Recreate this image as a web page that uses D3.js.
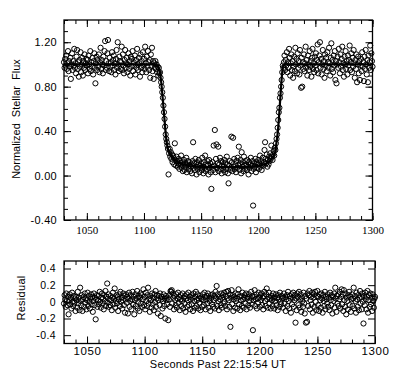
<!DOCTYPE html>
<html>
<head>
<meta charset="utf-8">
<script src="https://cdn.jsdelivr.net/npm/d3@7"></script>
<style>
  body { margin: 0; background: #fff; }
  svg { display: block; }
  .axis path { display: none; }
  .axis line { stroke: #000; stroke-width: 1; }
  .axis text { fill: #000; }
</style>
</head>
<body>
<svg width="396" height="372"></svg>
<script>
// Light curve sampled every half second from 1030 s to 1300 s.
const tStart = 1030;
const tStep = 0.5;

// Normalized stellar flux, one row = 10 s.
const flux = [
  1.02,0.97,1.05,0.99,1.08,0.96,1.01,1.12,0.94,1.03,0.98,1.06,0.87,1.00,1.10,0.95,1.03,0.99,1.14,0.97,
  1.01,0.92,1.07,1.13,0.96,1.02,0.89,1.04,0.98,1.11,0.93,1.00,1.06,0.90,1.03,0.97,1.09,0.95,1.01,1.05,
  0.99,1.04,0.92,1.08,1.00,0.96,1.12,0.94,1.02,0.98,1.06,0.91,1.03,1.10,0.97,0.83,1.01,1.07,0.95,1.04,
  0.98,1.09,0.93,1.02,1.15,0.96,1.04,1.00,0.92,1.07,0.99,1.12,1.21,0.95,1.03,0.97,1.10,1.22,1.01,0.94,
  1.06,0.98,1.02,0.93,1.11,0.99,1.04,1.08,0.95,1.01,0.91,1.05,1.13,0.97,1.20,1.00,0.94,1.07,1.03,0.96,
  1.02,1.16,0.95,1.09,0.99,0.92,1.04,1.13,0.97,1.01,1.06,0.93,1.00,1.10,0.96,1.03,0.90,1.07,0.98,1.05,
  1.12,0.94,1.02,0.99,1.08,0.91,1.04,0.97,1.14,1.00,0.95,1.06,1.01,0.89,1.09,0.97,1.03,0.93,1.11,0.99,
  1.05,0.96,1.16,1.01,0.93,1.07,0.98,1.12,1.02,0.95,1.04,0.88,1.09,0.99,1.15,0.94,1.03,0.87,1.01,0.97,
  1.03,0.96,1.00,0.93,0.98,0.90,0.97,0.92,0.93,0.88,0.84,0.80,0.75,0.70,0.63,0.57,0.51,0.44,0.37,0.33,
  0.30,0.27,0.24,0.01,0.20,0.24,0.17,0.21,0.15,0.19,0.12,0.18,0.16,0.10,0.29,0.14,0.09,0.17,0.13,0.08,
  0.11,0.15,0.06,0.13,0.09,0.18,0.07,0.12,0.04,0.10,0.14,0.05,0.11,0.08,0.16,0.03,0.10,0.13,0.06,0.09,
  0.12,0.04,0.08,0.10,0.02,0.13,0.30,0.07,0.11,0.05,0.15,0.08,0.01,0.12,0.06,0.10,0.14,0.03,0.09,0.07,
  0.11,0.05,0.16,0.08,0.02,0.12,0.07,0.18,0.04,0.10,0.06,0.13,0.09,0.01,0.14,0.07,0.11,0.03,-0.12,0.08,
  0.12,0.05,0.27,0.09,0.41,0.03,0.15,0.28,0.07,0.11,0.26,0.04,0.10,0.16,0.06,0.13,0.02,0.09,0.12,0.05,
  0.08,0.14,0.03,0.11,0.06,0.17,0.10,0.02,-0.07,0.09,0.13,0.05,0.07,0.35,0.12,0.04,0.34,0.08,0.15,0.06,
  0.10,0.03,0.13,0.07,0.16,0.09,0.26,0.05,0.11,0.14,0.02,0.21,0.08,0.12,0.04,0.17,0.09,0.06,0.13,0.10,
  0.05,0.14,0.08,0.01,0.12,0.07,0.10,0.16,0.04,0.09,0.13,-0.27,0.06,0.11,0.08,0.15,0.03,0.12,0.07,0.10,
  0.14,0.06,0.11,0.18,0.08,0.13,0.05,0.10,0.16,0.09,0.12,0.23,0.30,0.15,0.11,0.19,0.08,0.14,0.10,0.17,
  0.13,0.20,0.15,0.27,0.17,0.14,0.19,0.22,0.18,0.25,0.23,0.29,0.33,0.37,0.43,0.50,0.57,0.61,0.70,0.74,
  0.80,0.86,0.93,0.99,0.97,1.02,1.08,0.95,1.04,0.99,1.11,0.93,1.02,0.97,1.14,1.06,0.90,1.01,1.09,0.95,
  1.03,0.88,0.98,1.07,0.94,1.15,1.00,1.05,0.92,1.10,0.97,1.03,0.91,1.13,0.99,0.79,1.06,0.80,1.02,0.96,
  1.09,0.94,1.01,1.16,0.97,1.04,0.90,1.08,1.00,0.95,1.12,0.98,1.03,0.89,1.06,1.14,0.96,1.01,0.93,1.07,
  0.99,1.10,0.95,1.04,1.18,0.92,1.02,1.08,1.20,0.97,1.05,0.91,1.00,1.13,0.96,1.03,0.88,1.09,0.99,1.06,
  0.94,1.11,1.02,0.97,1.15,1.01,0.90,1.06,1.19,0.96,1.04,0.93,1.08,0.99,1.12,0.86,1.03,0.83,1.00,1.07,
  0.97,1.14,1.02,0.92,1.09,0.98,1.05,1.16,0.95,1.01,0.89,1.07,1.00,1.12,0.96,1.03,0.91,1.08,0.99,1.04,
  1.17,0.95,1.02,1.10,0.93,1.06,0.98,1.13,1.01,0.88,1.04,0.96,1.09,0.84,1.00,1.07,0.92,1.03,0.86,0.99,
  1.05,0.94,1.11,0.98,1.02,0.85,1.07,0.96,1.13,1.00,0.91,1.04,0.84,1.08,0.97,1.02,1.17,0.95,1.10,1.03,
  0.98
];

// Residuals (data minus model), same sampling.
const residual = [
  -0.02,0.08,0.03,-0.06,0.10,0.01,-0.04,0.06,-0.15,0.02,0.09,-0.03,0.05,-0.08,0.11,0.00,-0.05,0.07,-0.01,0.04,
  -0.11,0.06,0.02,-0.07,0.12,-0.02,0.05,-0.10,0.17,0.01,-0.04,0.08,-0.11,0.03,0.06,-0.06,0.10,-0.01,0.04,-0.09,
  0.02,0.11,-0.05,0.07,0.00,-0.08,0.04,0.09,-0.03,0.06,-0.12,0.01,0.10,-0.04,0.05,-0.21,0.03,0.08,-0.06,0.02,
  0.07,-0.03,0.12,0.00,-0.07,0.05,0.10,-0.02,0.04,-0.09,0.08,0.01,0.13,-0.05,0.06,0.22,-0.01,0.09,-0.06,0.03,
  -0.04,0.07,0.02,-0.10,0.05,0.11,-0.03,0.04,0.16,-0.07,0.01,0.08,-0.02,0.06,-0.11,0.03,0.09,-0.05,0.12,0.00,
  0.05,-0.08,0.02,0.10,-0.04,0.07,-0.13,0.03,0.09,-0.01,0.06,-0.14,0.04,0.11,-0.06,0.01,0.08,-0.09,0.03,0.12,
  -0.03,0.06,-0.15,0.02,0.09,-0.05,0.04,0.13,-0.08,0.00,0.07,-0.11,0.05,0.10,-0.02,0.08,-0.06,0.03,0.15,-0.04,
  0.06,-0.09,0.11,0.01,-0.05,0.08,0.17,-0.02,0.04,-0.12,0.07,0.02,-0.07,0.10,-0.03,0.05,-0.10,0.09,0.00,0.13,
  -0.06,0.04,0.08,-0.14,0.02,0.07,-0.04,0.10,-0.17,0.03,0.06,-0.08,0.01,0.09,-0.05,0.04,-0.20,0.07,0.02,-0.03,
  0.05,-0.22,0.03,0.08,-0.06,0.13,0.12,0.14,-0.02,0.10,0.05,-0.09,0.07,0.02,-0.04,0.09,-0.07,0.04,0.11,-0.01,
  0.06,-0.10,0.03,0.08,-0.05,0.01,0.10,-0.08,0.05,-0.02,0.07,-0.12,0.04,0.09,-0.06,0.02,0.11,-0.04,0.06,-0.09,
  0.03,0.08,-0.03,0.05,-0.11,0.10,0.01,-0.07,0.06,0.12,-0.05,0.02,0.09,-0.08,0.04,-0.01,0.07,-0.10,0.05,0.03,
  -0.06,0.09,0.02,-0.04,0.11,0.06,-0.09,0.03,0.07,-0.02,0.10,-0.07,0.04,0.01,-0.11,0.08,0.05,-0.03,0.09,-0.06,
  0.02,0.07,-0.08,0.12,0.04,0.19,-0.05,0.09,0.01,-0.10,0.06,0.03,-0.04,0.10,-0.07,0.05,0.08,-0.02,0.11,0.00,
  -0.05,0.07,0.12,-0.09,0.04,0.13,0.02,-0.06,0.09,-0.30,0.05,0.14,-0.03,0.08,-0.11,0.03,0.06,-0.07,0.10,0.01,
  0.04,-0.08,0.09,0.15,-0.03,0.06,-0.10,0.02,0.07,-0.05,0.11,0.03,-0.07,0.05,0.08,-0.02,0.10,-0.09,0.04,0.06,
  -0.04,0.09,0.01,-0.07,0.05,0.12,-0.03,0.07,-0.34,0.02,0.06,0.14,-0.05,0.03,0.09,-0.08,0.04,-0.01,0.11,0.05,
  -0.06,0.08,0.02,0.10,-0.04,0.05,-0.09,0.07,0.12,0.01,-0.05,0.09,0.16,0.03,-0.07,0.06,0.11,-0.02,0.04,-0.08,
  0.07,0.02,-0.05,0.10,0.04,-0.08,0.06,0.01,0.09,-0.04,0.05,-0.10,0.08,0.03,-0.06,0.11,0.00,-0.03,0.07,0.04,
  -0.07,0.05,0.10,-0.02,0.06,-0.11,0.03,0.08,-0.05,0.12,0.01,-0.08,0.07,0.04,-0.13,0.09,-0.03,0.05,0.11,-0.06,
  0.02,0.08,-0.25,0.04,-0.10,0.10,0.06,-0.04,0.12,-0.07,0.03,0.09,-0.12,0.05,0.01,-0.06,0.11,-0.02,-0.14,0.07,
  -0.25,0.04,-0.24,0.10,-0.05,0.08,0.13,-0.09,0.02,0.06,-0.03,0.11,-0.13,0.05,0.09,-0.06,0.12,0.00,-0.10,0.07,
  0.13,-0.04,0.06,-0.11,0.09,0.02,-0.07,0.10,0.04,-0.13,0.08,0.01,-0.05,0.12,-0.09,0.06,0.03,-0.02,0.09,-0.06,
  0.05,-0.10,0.11,0.02,-0.04,0.08,-0.14,0.06,0.01,0.10,-0.07,0.17,0.04,-0.12,0.07,-0.02,0.09,-0.05,0.03,0.12,
  -0.08,0.06,0.15,-0.03,0.09,-0.11,0.14,0.02,-0.06,0.10,-0.15,0.05,0.01,-0.09,0.08,0.12,-0.04,0.06,-0.12,0.03,
  0.09,-0.05,0.04,0.17,-0.08,0.07,0.01,-0.13,0.11,0.03,-0.06,0.08,-0.10,0.05,0.13,-0.02,0.06,-0.09,0.10,0.00,
  -0.26,0.07,-0.04,0.11,0.03,-0.09,0.06,0.13,-0.13,0.02,0.08,-0.06,0.10,-0.03,0.05,-0.11,0.09,0.01,-0.07,0.04,
  0.06
];

// Fitted model curve (knots).
const modelTime = [1030,1110,1112,1113,1114,1115,1116,1117,1118,1119,1120,1121,1123,1126,1130,1135,1145,1160,1180,1195,1205,1210,1213,1215,1216,1217,1218,1219,1220,1221,1222,1224,1300];
const modelFlux = [1.00,1.00,0.99,0.97,0.93,0.85,0.74,0.62,0.50,0.38,0.29,0.24,0.19,0.15,0.12,0.10,0.08,0.075,0.075,0.08,0.10,0.13,0.17,0.22,0.30,0.38,0.50,0.65,0.80,0.93,0.99,1.00,1.00];

// Axis ticks.
const timeLabels = [1050, 1100, 1150, 1200, 1250, 1300];
const timeMinor = d3.range(1030, 1301, 10);
const fluxLabels = [-0.4, 0, 0.4, 0.8, 1.2];
const fluxMinor = d3.range(-4, 15).map(i => i / 10);
const residLabels = [-0.4, -0.2, 0, 0.2, 0.4];

const svg = d3.select("svg");
const sans = "'Liberation Sans', Arial, sans-serif";
const serif = "'Liberation Serif', 'Times New Roman', serif";

// Panel geometry.
const upper = { left: 64, right: 372.5, top: 20, bottom: 220 };
const lower = { left: 64, right: 375, top: 261, bottom: 343.5 };

const xTop = d3.scaleLinear().domain([1030, 1300]).range([upper.left, upper.right]);
const yTop = d3.scaleLinear().domain([-0.4, 1.4]).range([upper.bottom, upper.top]);
const xBot = d3.scaleLinear().domain([1030, 1300]).range([lower.left, lower.right]);
const yBot = d3.scaleLinear().domain([-0.5, 0.49]).range([lower.bottom, lower.top]);

const fluxPts = flux.map((v, i) => ({ t: tStart + i * tStep, v }));
const residPts = residual.map((v, i) => ({ t: tStart + i * tStep, v }));
const model = modelTime.map((t, i) => ({ t, v: modelFlux[i] }));

// plain hyphen for negatives, like the original
const fmt2 = d => d.toFixed(2);
const fmt1 = d => d === 0 ? "0" : d.toFixed(1);

// Draws the four framed axes of a panel, ticks pointing inward.
function frame(p, x, y, xMinor, xMajor, yMinor, yMajor) {
  const w = p.right - p.left, h = p.bottom - p.top;
  const g = svg.append("g");
  const add = (axis, tx, ty) => g.append("g").attr("class", "axis")
    .attr("transform", `translate(${tx},${ty})`).call(axis);

  add(d3.axisBottom(x).tickValues(xMinor).tickSizeInner(-4).tickSizeOuter(0).tickFormat(""), 0, p.bottom);
  add(d3.axisTop(x).tickValues(xMinor).tickSizeInner(-4).tickSizeOuter(0).tickFormat(""), 0, p.top);
  add(d3.axisBottom(x).tickValues(xMajor).tickSizeInner(-7).tickSizeOuter(0).tickFormat(""), 0, p.bottom);
  add(d3.axisTop(x).tickValues(xMajor).tickSizeInner(-7).tickSizeOuter(0).tickFormat(""), 0, p.top);
  if (yMinor) {
    add(d3.axisLeft(y).tickValues(yMinor).tickSizeInner(-4).tickSizeOuter(0).tickFormat(""), p.left, 0);
    add(d3.axisRight(y).tickValues(yMinor).tickSizeInner(-4).tickSizeOuter(0).tickFormat(""), p.right, 0);
  }
  add(d3.axisLeft(y).tickValues(yMajor).tickSizeInner(-7).tickSizeOuter(0).tickFormat(""), p.left, 0);
  add(d3.axisRight(y).tickValues(yMajor).tickSizeInner(-7).tickSizeOuter(0).tickFormat(""), p.right, 0);

  g.append("rect")
    .attr("x", p.left).attr("y", p.top)
    .attr("width", w).attr("height", h)
    .attr("fill", "none").attr("stroke", "#000").attr("stroke-width", 1.3);
}

// ---- Top panel: normalized flux ----
svg.append("g").selectAll("circle")
  .data(fluxPts)
  .join("circle")
  .attr("cx", d => xTop(d.t))
  .attr("cy", d => yTop(d.v))
  .attr("r", 2.6)
  .attr("fill", "none")
  .attr("stroke", "#000")
  .attr("stroke-width", 1);

svg.append("path")
  .datum(model)
  .attr("fill", "none")
  .attr("stroke", "#000")
  .attr("stroke-width", 2.2)
  .attr("d", d3.line().x(d => xTop(d.t)).y(d => yTop(d.v)).curve(d3.curveMonotoneX));

frame(upper, xTop, yTop, timeMinor, timeLabels, fluxMinor, fluxLabels);

svg.append("g").attr("class", "axis")
  .attr("transform", `translate(0,${upper.bottom})`)
  .call(d3.axisBottom(xTop).tickValues(timeLabels).tickSize(0).tickPadding(6).tickFormat(d3.format("d")))
  .selectAll("text").style("font", `11px ${serif}`);

svg.append("g").attr("class", "axis")
  .attr("transform", `translate(${upper.left},0)`)
  .call(d3.axisLeft(yTop).tickValues(fluxLabels).tickSize(0).tickPadding(7).tickFormat(fmt2))
  .selectAll("text").style("font", `11px ${sans}`).style("letter-spacing", "0.3px");

svg.append("text")
  .attr("transform", "translate(20,119) rotate(-90)")
  .attr("text-anchor", "middle")
  .style("font", `11px ${sans}`)
  .style("word-spacing", "3px")
  .text("Normalized Stellar Flux");

// ---- Bottom panel: residuals ----
svg.append("g").selectAll("circle")
  .data(residPts)
  .join("circle")
  .attr("cx", d => xBot(d.t))
  .attr("cy", d => yBot(d.v))
  .attr("r", 2.6)
  .attr("fill", "none")
  .attr("stroke", "#000")
  .attr("stroke-width", 1);

frame(lower, xBot, yBot, timeMinor, timeLabels, null, residLabels);

svg.append("g").attr("class", "axis")
  .attr("transform", `translate(0,${lower.bottom})`)
  .call(d3.axisBottom(xBot).tickValues(timeLabels).tickSize(0).tickPadding(3).tickFormat(d3.format("d")))
  .selectAll("text").style("font", `11.5px ${sans}`).style("letter-spacing", "0.6px");

svg.append("g").attr("class", "axis")
  .attr("transform", `translate(${lower.left},0)`)
  .call(d3.axisLeft(yBot).tickValues(residLabels).tickSize(0).tickPadding(8).tickFormat(fmt1))
  .selectAll("text").style("font", `10.5px ${sans}`).style("letter-spacing", "0.4px");

svg.append("text")
  .attr("transform", "translate(25,298) rotate(-90)")
  .attr("text-anchor", "middle")
  .style("font", `11px ${sans}`)
  .style("letter-spacing", "0.3px")
  .text("Residual");

svg.append("text")
  .attr("x", 218)
  .attr("y", 368)
  .attr("text-anchor", "middle")
  .style("font", `11px ${sans}`)
  .style("letter-spacing", "0.2px")
  .text("Seconds Past 22:15:54 UT");
</script>
</body>
</html>
